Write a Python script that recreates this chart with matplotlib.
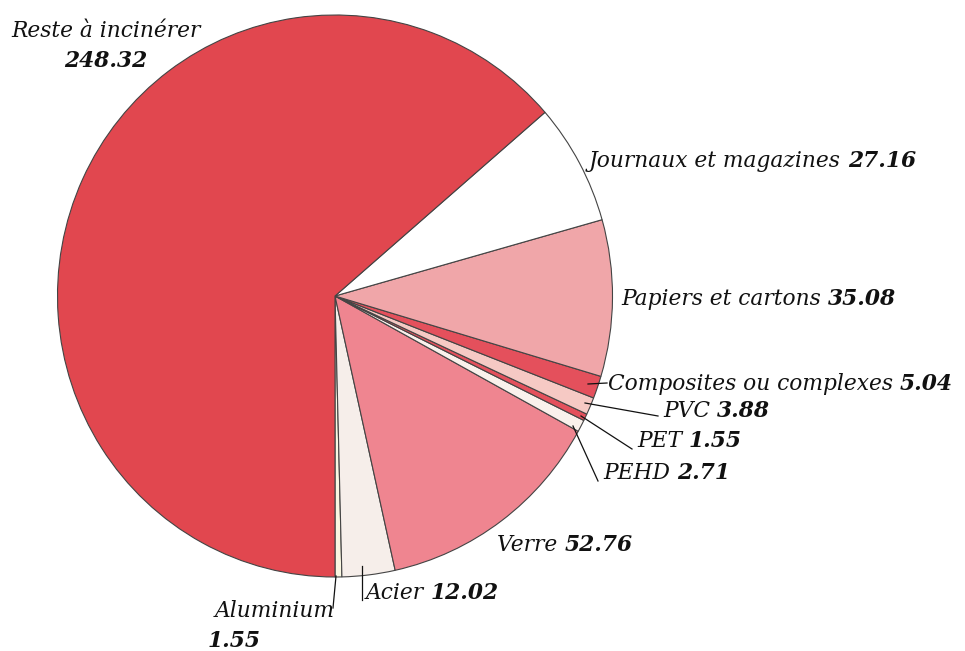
import matplotlib
matplotlib.use("Agg")
import matplotlib.pyplot as plt

# Data (matplotlib counter-clockwise order starting at the bottom)
categories = ["Aluminium", "Acier", "Verre", "PEHD", "PET", "PVC",
              "Composites ou complexes", "Papiers et cartons",
              "Journaux et magazines", "Reste à incinérer"]
values = [1.55, 12.02, 52.76, 2.71, 1.55, 3.88, 5.04, 35.08, 27.16, 248.32]
value_labels = ["1.55", "12.02", "52.76", "2.71", "1.55", "3.88", "5.04",
                "35.08", "27.16", "248.32"]
colors = ["#faf7e2", "#f6eeea", "#ef8590", "#faf1ec", "#e4505c", "#f6c9c4",
          "#e4505c", "#f0a6a9", "#ffffff", "#e1474f"]

W, H = 965, 651
K = 281 / 277.5  # slight horizontal squeeze of the scanned pie

fig = plt.figure(figsize=(W / 100, H / 100), dpi=100)
ax = fig.add_axes([0, 0, 1, 1])

def X(x):
    return x * K

def Y(y):
    return H - y

cx, cy, r = 335, 296, 281
ax.pie(values, colors=colors, startangle=-90, counterclock=True,
       center=(X(cx), Y(cy)), radius=r, frame=True,
       wedgeprops=dict(edgecolor="#444444", linewidth=0.8))
ax.set_aspect("auto")
ax.set_xlim(0, X(W))
ax.set_ylim(0, H)
ax.axis("off")

FS = 15.7
ital = dict(family="DejaVu Serif", style="italic", fontsize=FS, color="#111111")
bold = dict(family="DejaVu Serif", style="italic", weight="bold", fontsize=FS, color="#111111")

def label(name, num, x, y):
    t = ax.text(X(x), Y(y), name + " ", ha="left", va="bottom", **ital)
    ax.annotate(num, xy=(1, 0), xycoords=t, ha="left", va="bottom", **bold)

# Reste (two lines, centered)
ax.text(X(106), Y(42), categories[9], ha="center", va="bottom", **ital)
ax.text(X(106), Y(72), value_labels[9], ha="center", va="bottom", **bold)

label(categories[8], value_labels[8], 589, 172)
label(categories[7], value_labels[7], 621, 310)
label(categories[6], value_labels[6], 608, 395)
label(categories[5], value_labels[5], 663, 422)
label(categories[4], value_labels[4], 637, 452)
label(categories[3], value_labels[3], 603, 484)
label(categories[2], value_labels[2], 497, 556)
label(categories[1], value_labels[1], 366, 604)

# Aluminium (two lines, right-aligned name)
ax.text(X(335), Y(622), categories[0], ha="right", va="bottom", **ital)
ax.text(X(208), Y(652), value_labels[0], ha="left", va="bottom", **bold)

# Leader lines
lines = [
    ((588, 384), (607, 383)),
    ((585, 403), (658, 416)),
    ((581, 416), (632, 449)),
    ((573, 426), (598, 481)),
    ((362, 566), (362, 600)),
    ((336, 576), (333, 608)),
]
for (x1, y1), (x2, y2) in lines:
    ax.plot([X(x1), X(x2)], [Y(y1), Y(y2)], color="#111111", lw=0.9)

fig.savefig("out.png", dpi=100)
